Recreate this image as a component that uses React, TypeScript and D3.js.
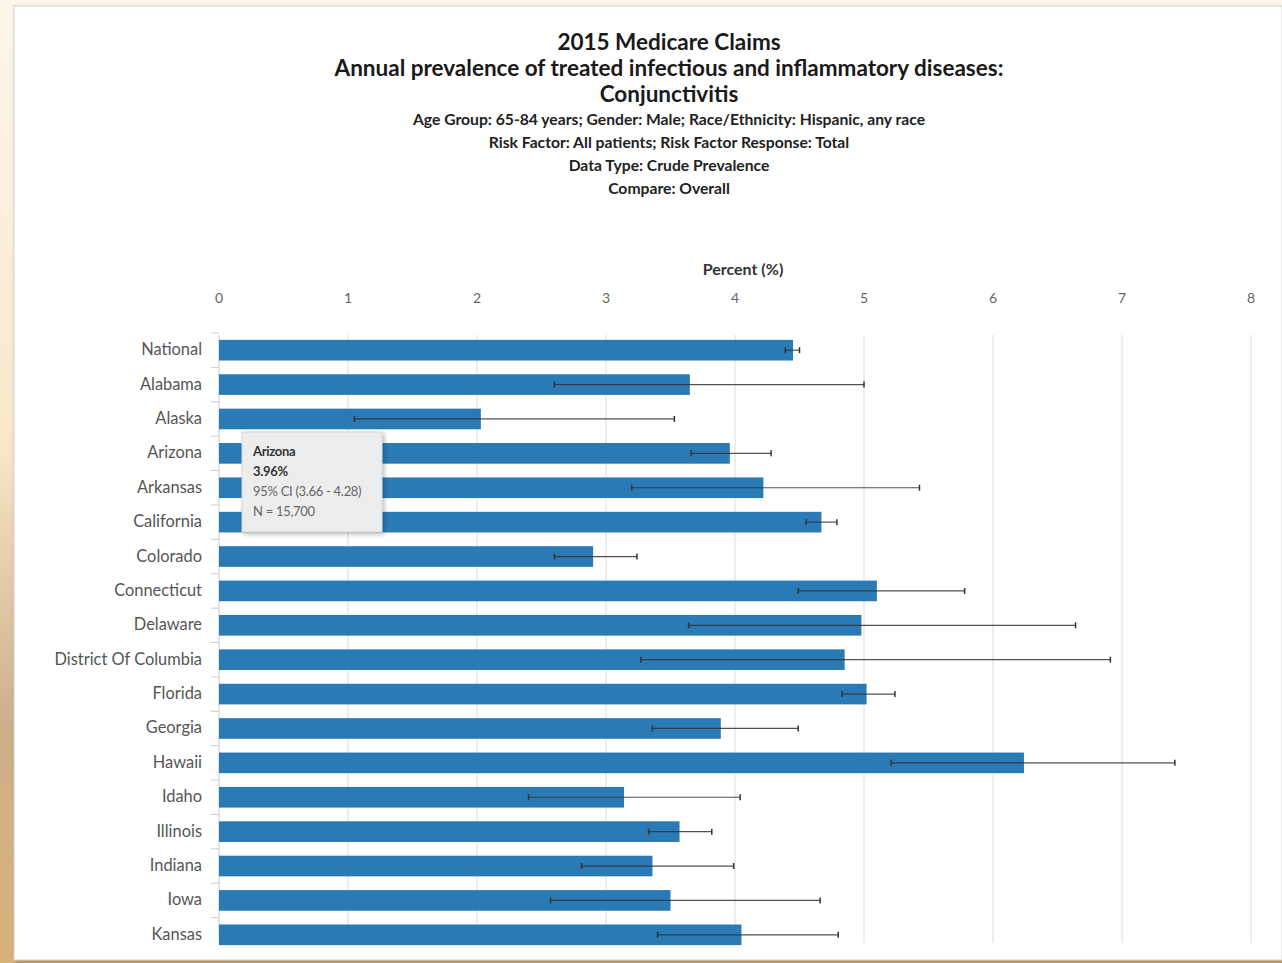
import React from 'react';
import * as d3 from 'd3';

const states = [
  'National', 'Alabama', 'Alaska', 'Arizona', 'Arkansas', 'California', 'Colorado',
  'Connecticut', 'Delaware', 'District Of Columbia', 'Florida', 'Georgia', 'Hawaii',
  'Idaho', 'Illinois', 'Indiana', 'Iowa', 'Kansas',
];
const prevalence = [4.45, 3.65, 2.03, 3.96, 4.22, 4.67, 2.9, 5.1, 4.98, 4.85, 5.02, 3.89, 6.24, 3.14, 3.57, 3.36, 3.5, 4.05];
const ciLow = [4.39, 2.6, 1.05, 3.66, 3.2, 4.55, 2.6, 4.49, 3.64, 3.27, 4.83, 3.36, 5.21, 2.4, 3.33, 2.81, 2.57, 3.4];
const ciHigh = [4.5, 5.0, 3.53, 4.28, 5.43, 4.79, 3.24, 5.78, 6.64, 6.91, 5.24, 4.49, 7.41, 4.04, 3.82, 3.99, 4.66, 4.8];
const xTicks = [0, 1, 2, 3, 4, 5, 6, 7, 8];

const titleLines = ['2015 Medicare Claims', 'Annual prevalence of treated infectious and inflammatory diseases:', 'Conjunctivitis'];
const subLines = [
  'Age Group: 65-84 years; Gender: Male; Race/Ethnicity: Hispanic, any race',
  'Risk Factor: All patients; Risk Factor Response: Total',
  'Data Type: Crude Prevalence',
  'Compare: Overall',
];
const tooltipLines = ['Arizona', '3.96%', '95% CI (3.66 - 4.28)', 'N = 15,700'];

const W = 1282;
const H = 963;
const font = 'Lato, "Open Sans", sans-serif';

export default function App() {
  const x = d3.scaleLinear().domain([0, 8]).range([219, 1251]);
  const y = d3.scaleBand<string>().domain(states).range([333, 952]).paddingInner(0.4).paddingOuter(0.2);
  const bh = y.bandwidth();

  return (
    <div style={{ position: 'absolute', left: 0, top: 0 }}>
      <svg width={W} height={H} style={{ display: 'block' }}>
        <defs>
          <linearGradient id="bg" x1="0" y1="0" x2="0" y2="1">
            <stop offset="0" stopColor="#fdf6ec" />
            <stop offset="0.45" stopColor="#fbe8cc" />
            <stop offset="0.75" stopColor="#cdb08a" />
            <stop offset="1" stopColor="#d9b07a" />
          </linearGradient>
          <filter id="shadow" x="-10%" y="-10%" width="130%" height="130%">
            <feDropShadow dx="2" dy="2" stdDeviation="2" floodColor="#000" floodOpacity="0.25" />
          </filter>
        </defs>
        <rect x={0} y={0} width={W} height={H} fill="url(#bg)" />
        <rect x={14} y={6} width={1268} height={954} fill="#fff" stroke="#cfcfcf" filter="url(#shadow)" />

        {titleLines.map((t, i) => (
          <text key={t} x={669} y={50 + i * 26} textAnchor="middle" fontFamily={font} fontSize={22.5}
            fontWeight="bold" fill="#1a1a1a">{t}</text>
        ))}
        {subLines.map((t, i) => (
          <text key={t} x={669} y={125 + i * 23} textAnchor="middle" fontFamily={font} fontSize={15.7}
            fontWeight="bold" fill="#222">{t}</text>
        ))}

        <text x={743} y={275} textAnchor="middle" fontFamily={font} fontSize={16} fontWeight="bold"
          fill="#333">Percent (%)</text>

        {xTicks.map(t => (
          <g key={t}>
            <text x={x(t)} y={303} textAnchor="middle" fontFamily={font} fontSize={14} fill="#666">{t}</text>
            {t > 0 && <line x1={x(t)} x2={x(t)} y1={335} y2={943} stroke="#dcdcdc" strokeWidth={1} />}
          </g>
        ))}
        <line x1={x(0)} x2={x(0)} y1={335} y2={943} stroke="#c8c8c8" />
        {states.map((s, i) => (
          <line key={'tk' + i} x1={x(0) - 8} x2={x(0)} y1={(y(s) as number) - y.step() * 0.2} y2={(y(s) as number) - y.step() * 0.2} stroke="#ccc" />
        ))}

        {states.map((s, i) => {
          const yc = (y(s) as number) + bh / 2;
          return (
            <g key={s}>
              <text x={202} y={yc + 5} textAnchor="end" fontFamily={font} fontSize={16.4} fill="#555">{s}</text>
              <rect x={x(0)} y={y(s)} width={x(prevalence[i]) - x(0)} height={bh} fill="#2a7ab6" />
              <line x1={x(ciLow[i])} x2={x(ciHigh[i])} y1={yc} y2={yc} stroke="#333" strokeWidth={1.2} opacity={0.85} />
              <line x1={x(ciLow[i])} x2={x(ciLow[i])} y1={yc - 3} y2={yc + 3} stroke="#333" strokeWidth={1.5} />
              <line x1={x(ciHigh[i])} x2={x(ciHigh[i])} y1={yc - 3} y2={yc + 3} stroke="#333" strokeWidth={1.5} />
            </g>
          );
        })}

        <g filter="url(#shadow)">
          <rect x={242} y={432} width={140} height={100} fill="#ededed" stroke="#d6d6d6" />
        </g>
        {tooltipLines.map((t, i) => (
          <text key={t} x={253} y={456 + i * 20} fontFamily={font} fontSize={13} letterSpacing={-0.3}
            fontWeight={i < 2 ? 'bold' : 'normal'} fill={i < 2 ? '#333' : '#666'}>{t}</text>
        ))}
      </svg>
    </div>
  );
}
